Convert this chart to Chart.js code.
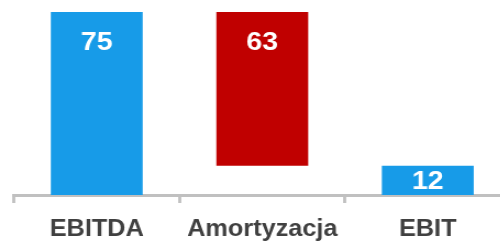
<!DOCTYPE html>
<html>
<head>
<meta charset="utf-8">
<script src="https://cdn.jsdelivr.net/npm/chart.js@4.4.1/dist/chart.umd.min.js"></script>
<style>
  html, body { margin: 0; padding: 0; background: #ffffff; overflow: hidden; }
  #wrap { width: 500px; height: 242px; overflow: hidden; position: relative; }
  canvas { display: block; }
</style>
</head>
<body>
<div id="wrap"><canvas id="c" width="473" height="242" style="width:520px;height:242px"></canvas></div>
<script>
const categories = ['EBITDA', 'Amortyzacja', 'EBIT'];
const values = [75, 63, 12];
const barBase = [0, 12, 0];
const barColors = ['#179be8', '#c00000', '#179be8'];

const floating = categories.map((c, i) => [barBase[i], barBase[i] + values[i]]);

const valueLabels = {
  id: 'valueLabels',
  afterDatasetsDraw(chart) {
    const ctx = chart.ctx;
    const meta = chart.getDatasetMeta(0);
    const size = 26;
    ctx.save();
    ctx.font = 'bold ' + size + 'px "Liberation Sans", Arial, sans-serif';
    ctx.fillStyle = '#ffffff';
    ctx.textAlign = 'center';
    ctx.textBaseline = 'alphabetic';
    meta.data.forEach((bar, i) => {
      const top = Math.min(bar.y, bar.base);
      const h = Math.abs(bar.base - bar.y);
      const cy = top + Math.min(29, h / 2 - 1);
      ctx.fillText(String(values[i]), bar.x, cy + size * 0.716 / 2);
    });
    ctx.restore();
  }
};

new Chart(document.getElementById('c'), {
  type: 'bar',
  data: {
    labels: categories,
    datasets: [{
      data: floating,
      backgroundColor: barColors,
      borderWidth: 0,
      categoryPercentage: 1,
      barPercentage: 0.555
    }]
  },
  options: {
    responsive: false,
    animation: false,
    devicePixelRatio: 1,
    layout: { padding: { left: 12.7, right: 8.6, top: 12, bottom: 0 } },
    plugins: { legend: { display: false }, tooltip: { enabled: false } },
    scales: {
      y: { display: false, min: 0, max: 75 },
      x: {
        afterFit: s => { s.height = 47; },
        border: { display: true, color: '#c0c0c0', width: 3 },
        grid: {
          display: true,
          offset: true,
          drawOnChartArea: false,
          drawTicks: true,
          tickLength: 8,
          tickWidth: 2.8,
          tickColor: '#c0c0c0'
        },
        ticks: {
          color: '#404040',
          padding: 13,
          font: { family: '"Liberation Sans", Arial, sans-serif', size: 23, weight: 'bold' }
        }
      }
    }
  },
  plugins: [valueLabels]
});
</script>
</body>
</html>
